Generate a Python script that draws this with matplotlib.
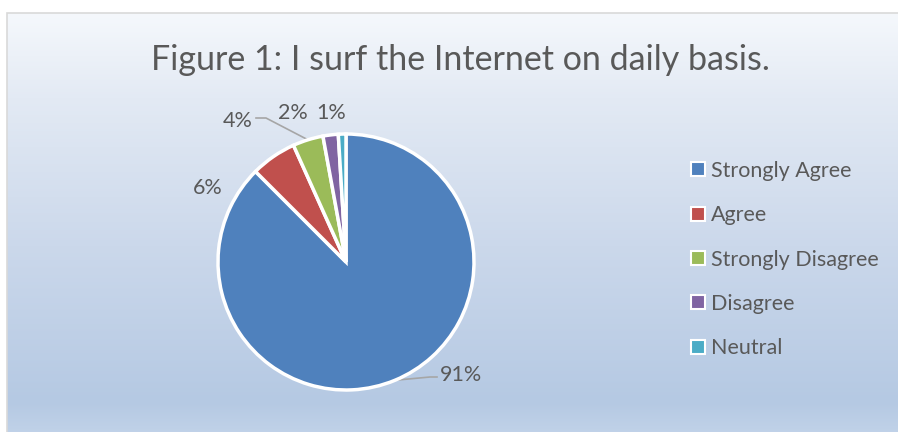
import numpy as np
import matplotlib.pyplot as plt
from matplotlib.patches import Patch, Rectangle
from matplotlib.colors import LinearSegmentedColormap

plt.rcParams['font.family'] = ['Lato', 'DejaVu Sans']

categories = ["Strongly Agree", "Agree", "Strongly Disagree", "Disagree", "Neutral"]
percents = [91, 6, 4, 2, 1]
colors = ["#4f81bd", "#c0504d", "#9bbb59", "#8064a2", "#4bacc6"]
title = "Figure 1: I surf the Internet on daily basis."

W, H = 898, 432
fig = plt.figure(figsize=(W / 100, H / 100), dpi=100)
ax = fig.add_axes([0, 0, 1, 1])

# backdrop: white page, chart area with a pale-to-blue vertical gradient
grad = LinearSegmentedColormap.from_list(
    "bg", [(0, "#c2d3e9"), (0.08, "#b5c9e3"), (0.45, "#cbd8eb"),
           (0.8, "#e3eaf4"), (1, "#f5f8fc")])
ax.imshow(np.linspace(0, 1, 256).reshape(-1, 1), cmap=grad, aspect="auto",
          extent=(7, W + 5, -5, H - 13), origin="lower", zorder=0)
ax.add_patch(Rectangle((7, -5), W, H - 13 + 5, fill=False, ec="#d9d9d9", lw=1.2, zorder=1))

cx, cy, r = 346, 170, 128
wedges, _ = ax.pie(percents, colors=colors, startangle=90, counterclock=False,
                   center=(cx, cy), radius=r,
                   wedgeprops=dict(edgecolor="white", linewidth=2.5))
for w in wedges:
    w.set_zorder(3)

txt = "#595959"
label_pos = [(461, 57), (208, 244), (238, 311), (293, 319), (331, 319)]
for w, p, (lx, ly) in zip(wedges, percents, label_pos):
    ax.text(lx, ly, f"{p}%", ha="center", va="center", fontsize=15.5, color=txt, zorder=4)

# leader lines for the 91% and 4% labels
def edge_point(w):
    mid = np.deg2rad((w.theta1 + w.theta2) / 2)
    return cx + r * np.cos(mid), cy + r * np.sin(mid)

ex, ey = edge_point(wedges[0])
ax.plot([ex, 430, 437], [ey, 55, 55], color="#a6a6a6", lw=1.2, zorder=2)
ex, ey = edge_point(wedges[2])
ax.plot([256, 266, ex], [314, 314, ey], color="#a6a6a6", lw=1.2, zorder=2)

ax.text(460, H - 60, title, ha="center", va="center", fontsize=24.5, color=txt, zorder=4)

handles = [Patch(facecolor=c, edgecolor="white", linewidth=1.5) for c in colors]
leg = ax.legend(handles, categories, loc="upper left", bbox_to_anchor=(691 / W, 1 - 161 / H),
                frameon=False, fontsize=15.5, labelcolor=txt, handlelength=0.63,
                handleheight=0.63, handletextpad=0.3, labelspacing=1.13,
                borderaxespad=0, borderpad=0)
leg.set_zorder(5)

ax.set_xlim(0, W)
ax.set_ylim(0, H)
ax.set_aspect("auto")
ax.axis("off")

fig.savefig("out.png", dpi=100, facecolor="white")
